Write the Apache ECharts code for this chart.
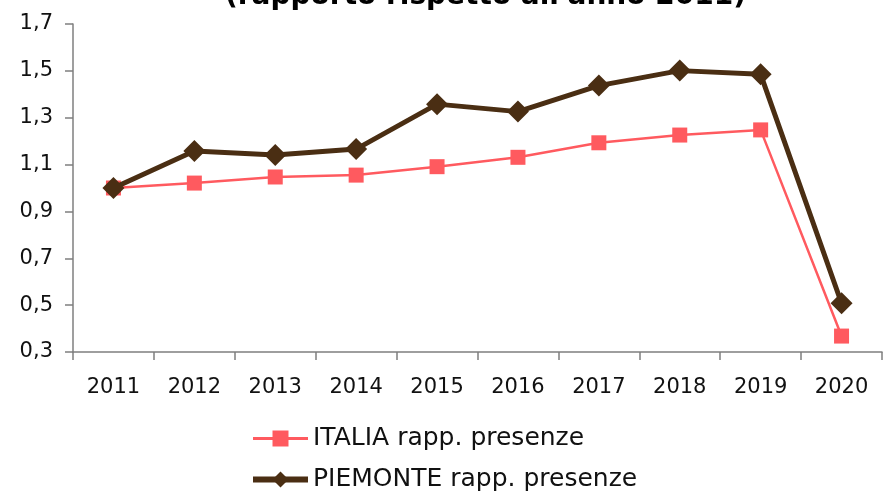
<!DOCTYPE html>
<html>
<head>
<meta charset="utf-8">
<script src="https://cdn.jsdelivr.net/npm/echarts@6/dist/echarts.min.js"></script>
<style>
  html, body { margin: 0; padding: 0; background: #fff; }
  #chart { width: 885px; height: 495px; }
</style>
</head>
<body>
<div id="chart"></div>
<script>
var years = ['2011', '2012', '2013', '2014', '2015', '2016', '2017', '2018', '2019', '2020'];
var italia = [1.0, 1.021, 1.047, 1.055, 1.091, 1.131, 1.193, 1.226, 1.248, 0.368];
var piemonte = [1.0, 1.158, 1.141, 1.166, 1.358, 1.326, 1.437, 1.501, 1.485, 0.508];
var seriesNames = ['ITALIA rapp. presenze', 'PIEMONTE rapp. presenze'];
var titleText = "(rapporto rispetto all'anno 2011)";

var font = 'DejaVu Sans';
var red = '#ff5a5f', brown = '#4a2e13';
var chart = echarts.init(document.getElementById('chart'));
chart.setOption({
    animation: false,
    title: {
        text: titleText,
        left: 220,
        top: -22,
        textStyle: { fontFamily: font, fontSize: 28, fontWeight: 'bold', color: '#000' }
    },
    grid: { left: 73, right: 3, top: 24, bottom: 143, containLabel: false },
    legend: {
        orient: 'vertical',
        left: 250,
        top: 426,
        height: 69,
        padding: 0,
        itemGap: 16,
        itemWidth: 55,
        itemHeight: 20,
        textStyle: { fontFamily: font, fontSize: 25, color: '#111' },
        data: [
            { name: seriesNames[0], lineStyle: { width: 3, color: red } },
            { name: seriesNames[1], lineStyle: { width: 6, color: brown } }
        ]
    },
    xAxis: {
        type: 'category',
        data: years,
        boundaryGap: true,
        axisLine: { lineStyle: { color: '#7f7f7f', width: 1.5 } },
        axisTick: { show: true, length: 8, lineStyle: { color: '#7f7f7f', width: 1.5 } },
        axisLabel: { fontFamily: font, fontSize: 21, color: '#111', margin: 25 }
    },
    yAxis: {
        type: 'value',
        min: 0.3,
        max: 1.7,
        interval: 0.2,
        splitLine: { show: false },
        axisLine: { show: true, lineStyle: { color: '#7f7f7f', width: 1.5 } },
        axisTick: { show: true, length: 8, lineStyle: { color: '#7f7f7f', width: 1.5 } },
        axisLabel: {
            fontFamily: font, fontSize: 21, color: '#111', margin: 20,
            formatter: function (v) { return v.toFixed(1).replace('.', ','); }
        }
    },
    series: [
        {
            name: seriesNames[0],
            type: 'line',
            data: italia,
            symbol: 'rect',
            symbolSize: 15,
            color: red,
            lineStyle: { width: 2.5, color: red },
            itemStyle: { color: red },
            z: 2
        },
        {
            name: seriesNames[1],
            type: 'line',
            data: piemonte,
            symbol: 'diamond',
            symbolSize: 22,
            color: brown,
            lineStyle: { width: 5, color: brown },
            itemStyle: { color: brown },
            z: 3
        }
    ]
});
</script>
</body>
</html>
